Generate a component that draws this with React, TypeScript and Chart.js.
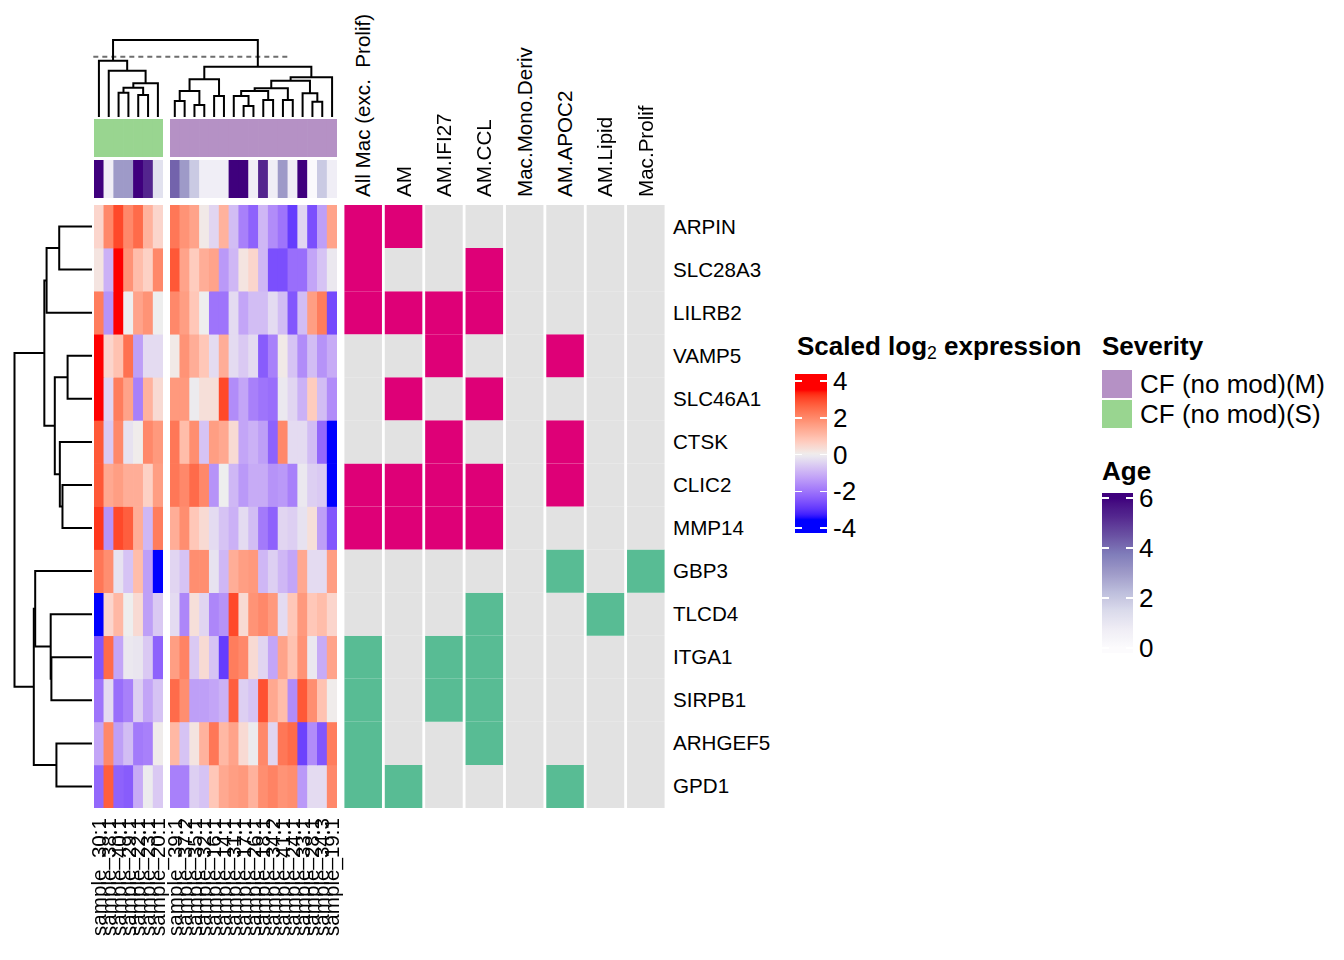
import React, { useEffect, useRef } from 'react';
import { Chart, registerables } from 'chart.js';
Chart.register(...registerables);

// ---------------- data ----------------
const genes = ['ARPIN', 'SLC28A3', 'LILRB2', 'VAMP5', 'SLC46A1', 'CTSK', 'CLIC2', 'MMP14', 'GBP3', 'TLCD4', 'ITGA1', 'SIRPB1', 'ARHGEF5', 'GPD1'];
const geneDirection = [1, 1, 1, 1, 1, 1, 1, 1, -1, -1, -1, -1, -1, -1];

const samplesS = ['sample_30:1', 'sample_38:1', 'sample_40:1', 'sample_29:1', 'sample_22:1', 'sample_23:1', 'sample_20:1'];
const samplesM = ['sample_39:1', 'sample_37:2', 'sample_35:1', 'sample_32:1', 'sample_16:1', 'sample_14:1', 'sample_31:1', 'sample_17:1', 'sample_26:1', 'sample_18:1', 'sample_34:2', 'sample_41:1', 'sample_24:1', 'sample_33:1', 'sample_28:1', 'sample_34:3', 'sample_19:1'];

const severityLevels = ['CF (no mod)(M)', 'CF (no mod)(S)'];
const severityColors = ['#B591C5', '#99D590'];
const severityS = samplesS.map(() => 'CF (no mod)(S)');
const severityM = samplesM.map(() => 'CF (no mod)(M)');

const ageS = [6, 0.7, 3, 3, 6, 5.3, 1.2];
const ageM = [4.2, 3, 1.9, 0.7, 0.7, 0.7, 6, 6, 0.7, 5.3, 0.7, 3, 0.7, 6, 0.1, 1.9, 0.7];

const exprS: number[][] = [
  [0.5, 2, 3, 2, 2.5, 1.2, 0.5],
  [0.2, -1, 3.7, 1.8, 1, 0.6, 2],
  [2.2, -1.5, 3.5, 0, 1.5, 1.8, 0],
  [4, 0.5, 0.9, 2.4, -1.3, -0.3, -0.3],
  [4, -0.4, 2.2, 1.5, -1.8, 1.2, 0.4],
  [2.8, -0.6, 2, -0.2, 0.05, 2, 1.7],
  [2.8, 1.4, 1.6, 1.3, 1.3, 0.6, 1.6],
  [3.2, -1.5, 3, 2.7, 1.3, -0.9, 2.2],
  [2.3, 1.9, -0.2, -0.7, 1, -1.3, -4],
  [-4, 0.5, 1.1, 0, 0.4, -1.3, -0.6],
  [-2.5, 2.5, -1.2, -0.1, -0.15, -0.6, -2.3],
  [-2, -0.3, -2.1, -1.8, -0.5, -1.2, -0.7],
  [-1.2, 2, -1.3, -0.8, -1.9, -1.8, 0.05],
  [-2.2, 2.7, -2.3, -2.4, -1.1, -0.05, -0.6],
];

const exprM: number[][] = [
  [2.3, 1.8, 1.5, 0.1, -0.4, 1.2, -0.8, -1.8, -2.3, -0.9, -1.6, -2, -2.9, -0.4, -2.6, -1.3, 1.5],
  [2.8, 1.5, 0.7, 1.3, 1.5, -1.4, -0.9, 0.2, 0.5, -0.9, -2.6, -2.6, -2.1, -2.1, -1.2, -0.7, -0.1],
  [2, 1.6, 0.8, 0, -2, -2, -0.3, -1.2, -0.8, -0.8, -0.3, -0.8, -2.5, -0.8, 1.6, 2.2, -2.7],
  [0.1, 1.8, 1.3, 0.8, -0.3, 1.3, -0.3, -0.6, -0.3, -2.4, -1.8, 0.1, -0.7, -1.6, -0.8, -1.5, -1.1],
  [1.7, 1.7, -0.05, 0.3, 0.3, 3, -1.6, -1.2, -1.8, -2, -2.1, -0.1, -0.4, -1, 0.7, -0.8, -1.6],
  [2.3, 1, 1.9, -0.7, 1.6, 1.4, 0.4, -1.2, -1, -1.3, -2.3, 2, -0.3, -0.3, -0.8, -2.2, -4],
  [2.3, 2, 2.5, 2, -1.5, 0, -0.9, -1.4, -1.1, -1.1, -1.5, -1.4, -1.8, -0.1, -0.5, -0.6, -3.8],
  [1.3, 1.9, 0.8, 0.4, -0.3, -0.7, -1, -0.3, -0.8, -1.9, -2.3, -0.4, -0.5, -0.2, 0.3, -1.3, -2.5],
  [-0.4, -0.7, 1.9, 1.9, -0.2, -0.9, 1.3, 1.6, 1.7, -0.9, -0.5, -0.9, -1.2, 1.4, -0.3, -0.3, 1.6],
  [-0.3, -1.7, 0.3, -0.4, -1.7, -1.5, 3, 0.4, 1.8, 2, 1.7, -0.3, 0.8, 1.7, 0.8, 1, 0.5],
  [1.6, 2.1, -0.6, 0.4, -0.7, -2.9, 2.2, 2, 0.4, -0.4, -1.2, 1.5, 0.9, 1.8, -0.1, -1.1, 1.5],
  [2.5, 1.9, -1.3, -1.3, -1.2, -1, 2.7, -0.5, -0.7, 2.9, 1.4, 1, -1.6, 2.8, 1.9, 0.9, 0.05],
  [1.1, -0.7, 0.2, 1.2, 2.3, 1.1, 1.5, 0.4, -0.05, 2, -0.4, 2.3, 2.5, -2.8, -1.6, -2.5, 2.2],
  [-1.8, -1.8, -0.5, -0.7, 0.8, 1.4, 1.6, 1.7, 1.2, 1.9, 2.1, 1.8, 1.9, -1.4, -0.3, -0.3, 2],
];

const modules = ['All Mac (exc.  Prolif)', 'AM', 'AM.IFI27', 'AM.CCL', 'Mac.Mono.Deriv', 'AM.APOC2', 'AM.Lipid', 'Mac.Prolif'];
const membership: number[][] = [
  [1, 1, 0, 0, 0, 0, 0, 0],
  [1, 0, 0, 1, 0, 0, 0, 0],
  [1, 1, 1, 1, 0, 0, 0, 0],
  [0, 0, 1, 0, 0, 1, 0, 0],
  [0, 1, 0, 1, 0, 0, 0, 0],
  [0, 0, 1, 0, 0, 1, 0, 0],
  [1, 1, 1, 1, 0, 1, 0, 0],
  [1, 1, 1, 1, 0, 0, 0, 0],
  [0, 0, 0, 0, 0, 1, 0, 1],
  [0, 0, 0, 1, 0, 0, 1, 0],
  [1, 0, 1, 1, 0, 0, 0, 0],
  [1, 0, 1, 1, 0, 0, 0, 0],
  [1, 0, 0, 1, 0, 0, 0, 0],
  [1, 1, 0, 0, 0, 1, 0, 0],
];

// dendrograms: [left, right, height]; leaves are indices
type Tree = number | [Tree, Tree, number];
const rowTree: Tree = [
  [[[0, 1, 4.23], 2, 5.86], [[3, 4, 3.15], [5, [6, 7, 3.81], 4.15], 4.8], 6.15],
  [[8, [9, [10, 11, 5.24], 5.33], 7.33], [12, 13, 4.59], 7.51],
  10.0,
];
const colTreeS: Tree = [0, [1, [[[2, 3, 3.16], [4, 5, 2.86], 3.81], 6, 4.37], 6.02], 7.31];
const colTreeM: Tree = [
  [[[0, 1, 2.08], [2, 3, 1.56], 3.38], [4, 5, 2.73], 4.89],
  [[[[[6, [7, 8, 1.43], 2.73], [9, 10, 2.21], 3.38], [11, 12, 2.21], 3.72], [13, [14, 15, 1.99], 3.07], 4.72], 16, 5.15],
  6.54,
];
const colRootHeight = 10.0;
const splitDash = { height: 7.83, from: -0.07, to: 19.94 };

const exprTicks = [4, 2, 0, -2, -4];
const ageTicks = [6, 4, 2, 0];

// ---------------- colour helpers ----------------
function toLab(hex: string): number[] {
  const n = parseInt(hex.slice(1), 16);
  const [r, g, b] = [(n >> 16) & 255, (n >> 8) & 255, n & 255].map((c) => {
    const v = c / 255;
    return v <= 0.04045 ? v / 12.92 : Math.pow((v + 0.055) / 1.055, 2.4);
  });
  const X = (0.4124564 * r + 0.3575761 * g + 0.1804375 * b) / 0.95047;
  const Y = 0.2126729 * r + 0.7151522 * g + 0.072175 * b;
  const Z = (0.0193339 * r + 0.119192 * g + 0.9503041 * b) / 1.08883;
  const f = (t: number) => (t > 216 / 24389 ? Math.cbrt(t) : ((24389 / 27) * t + 16) / 116);
  const fx = f(X), fy = f(Y), fz = f(Z);
  return [116 * fy - 16, 500 * (fx - fy), 200 * (fy - fz)];
}
function fromLab(lab: number[]): string {
  const [L, a, b] = lab;
  const fy = (L + 16) / 116, fx = fy + a / 500, fz = fy - b / 200;
  const inv = (t: number) => (t * t * t > 216 / 24389 ? t * t * t : (116 * t - 16) / (24389 / 27));
  const X = inv(fx) * 0.95047, Y = inv(fy), Z = inv(fz) * 1.08883;
  const r = 3.2404542 * X - 1.5371385 * Y - 0.4985314 * Z;
  const g = -0.969266 * X + 1.8760108 * Y + 0.041556 * Z;
  const bb = 0.0556434 * X - 0.2040259 * Y + 1.0572252 * Z;
  const enc = (c: number) => {
    const x = Math.max(0, Math.min(1, c));
    const v = x <= 0.0031308 ? 12.92 * x : 1.055 * Math.pow(x, 1 / 2.4) - 0.055;
    return Math.round(v * 255);
  };
  return `rgb(${enc(r)},${enc(g)},${enc(bb)})`;
}
function makeRamp(breaks: number[], colors: string[]) {
  const labs = colors.map(toLab);
  return (v: number) => {
    if (v <= breaks[0]) return fromLab(labs[0]);
    if (v >= breaks[breaks.length - 1]) return fromLab(labs[labs.length - 1]);
    let i = 0;
    while (v > breaks[i + 1]) i++;
    const t = (v - breaks[i]) / (breaks[i + 1] - breaks[i]);
    return fromLab(labs[i].map((c, k) => c + (labs[i + 1][k] - c) * t));
  };
}
const exprColor = makeRamp([-3.5, 0, 3.5], ['#0000FF', '#EEEEEE', '#FF0000']);
const purples = ['#FCFBFD', '#EFEDF5', '#DADAEB', '#BCBDDC', '#9E9AC8', '#807DBA', '#6A51A3', '#54278F', '#3F007D'];
const ageColor = makeRamp(purples.map((_, i) => (i * 6) / (purples.length - 1)), purples);
const UP = '#DE0077';
const DOWN = '#58BC94';
const NONE = '#E2E2E2';

// ---------------- layout ----------------
const FONT = '"Liberation Sans", Arial, Helvetica, sans-serif';
const NAME_FS = 20.6;
const LEG_FS = 26;
const HM_TOP = 205, HM_BOTTOM = 808;
const S_LEFT = 94, S_RIGHT = 163, M_LEFT = 170, M_RIGHT = 337;
const MEM_LEFT = 343, MEM_RIGHT = 666;
const ROW_H = (HM_BOTTOM - HM_TOP) / genes.length;
const GAP_UNITS = 24.72 - samplesS.length - samplesM.length;

// ---------------- charts ----------------
function GridChart(props: { left: number; top: number; width: number; height: number; labels: string[]; colors: string[][]; barPct?: number }) {
  const ref = useRef<HTMLCanvasElement>(null);
  const { left, top, width, height, labels, colors, barPct = 1 } = props;
  useEffect(() => {
    const chart = new Chart(ref.current!, {
      type: 'bar',
      data: {
        labels,
        datasets: colors.map((row) => ({
          data: row.map(() => 1),
          backgroundColor: row,
          borderWidth: 0,
          barPercentage: barPct,
          categoryPercentage: 1,
          stack: 'grid',
        })),
      },
      options: {
        responsive: false,
        animation: false,
        events: [],
        layout: { padding: 0 },
        plugins: { legend: { display: false }, tooltip: { enabled: false } },
        scales: {
          x: { display: false, stacked: true },
          y: { display: false, stacked: true, min: 0, max: colors.length, reverse: true },
        },
      },
    });
    return () => chart.destroy();
  }, []);
  return <canvas ref={ref} width={width} height={height} style={{ position: 'absolute', left, top }} />;
}

type Pt = { x: number; y: number };
function layoutTree(t: Tree, pos: (i: number) => number, segs: Pt[][]): { p: number; h: number } {
  if (typeof t === 'number') return { p: pos(t), h: 0 };
  const a = layoutTree(t[0], pos, segs);
  const b = layoutTree(t[1], pos, segs);
  const h = t[2];
  segs.push([
    { x: a.p, y: a.h },
    { x: a.p, y: h },
    { x: b.p, y: h },
    { x: b.p, y: b.h },
  ]);
  return { p: (a.p + b.p) / 2, h };
}
function shiftTree(t: Tree, k: number): Tree {
  return typeof t === 'number' ? t + k : [shiftTree(t[0], k), shiftTree(t[1], k), t[2]];
}

function DendroChart(props: {
  left: number; top: number; width: number; height: number;
  padding: { left: number; right: number; top: number; bottom: number };
  segs: Pt[][]; dashed?: Pt[]; xScale: any; yScale: any;
}) {
  const ref = useRef<HTMLCanvasElement>(null);
  const { left, top, width, height, padding, segs, dashed, xScale, yScale } = props;
  useEffect(() => {
    const datasets: any[] = segs.map((s) => ({
      data: s,
      showLine: true,
      borderColor: '#000000',
      borderWidth: 2,
      pointRadius: 0,
      fill: false,
      clip: false,
      tension: 0,
    }));
    if (dashed) {
      datasets.push({
        data: dashed,
        showLine: true,
        borderColor: '#6E6E6E',
        borderWidth: 2,
        borderDash: [5, 4],
        pointRadius: 0,
        fill: false,
        clip: false,
      });
    }
    const chart = new Chart(ref.current!, {
      type: 'scatter',
      data: { datasets },
      options: {
        responsive: false,
        animation: false,
        events: [],
        layout: { padding },
        plugins: { legend: { display: false }, tooltip: { enabled: false } },
        scales: { x: { display: false, type: 'linear', ...xScale }, y: { display: false, type: 'linear', ...yScale } },
      },
    });
    return () => chart.destroy();
  }, []);
  return <canvas ref={ref} width={width} height={height} style={{ position: 'absolute', left, top }} />;
}

// ---------------- text helpers ----------------
const baseText: React.CSSProperties = { position: 'absolute', fontFamily: FONT, lineHeight: 1, whiteSpace: 'pre', color: '#000' };

function gradient(ramp: (v: number) => string, vTop: number, vBottom: number) {
  const stops: string[] = [];
  const N = 60;
  for (let k = 0; k <= N; k++) {
    const v = vTop + ((vBottom - vTop) * k) / N;
    stops.push(`${ramp(v)} ${((k / N) * 100).toFixed(2)}%`);
  }
  return `linear-gradient(to bottom, ${stops.join(', ')})`;
}

function ColorBar(props: { left: number; width: number; vTop: number; vBottom: number; y0: number; pxPerUnit: number; ticks: number[]; ramp: (v: number) => string; labelLeft: number }) {
  const { left, width, vTop, vBottom, y0, pxPerUnit, ticks, ramp, labelLeft } = props;
  const yOf = (v: number) => y0 - v * pxPerUnit;
  const top = yOf(vTop);
  const h = yOf(vBottom) - top;
  return (
    <>
      <div style={{ position: 'absolute', left, top, width, height: h, background: gradient(ramp, vTop, vBottom) }} />
      {ticks.map((t) => (
        <React.Fragment key={t}>
          <div style={{ position: 'absolute', left, top: yOf(t) - 0.75, width: 7, height: 1.5, background: '#fff' }} />
          <div style={{ position: 'absolute', left: left + width - 7, top: yOf(t) - 0.75, width: 7, height: 1.5, background: '#fff' }} />
          <div style={{ ...baseText, left: labelLeft, top: yOf(t), transform: 'translateY(-50%)', fontSize: LEG_FS }}>{String(t)}</div>
        </React.Fragment>
      ))}
    </>
  );
}

export default function App() {
  const sColW = (S_RIGHT - S_LEFT) / samplesS.length;
  const mColW = (M_RIGHT - M_LEFT) / samplesM.length;
  const memW = (MEM_RIGHT - MEM_LEFT) / modules.length;

  const sevColor = (s: string) => severityColors[severityLevels.indexOf(s)];

  const colSegs: Pt[][] = [];
  const colPos = (i: number) => (i < samplesS.length ? i + 0.5 : i + GAP_UNITS + 0.5);
  layoutTree([colTreeS, shiftTree(colTreeM, samplesS.length), colRootHeight], colPos, colSegs);
  const rowSegsRaw: Pt[][] = [];
  layoutTree(rowTree, (i) => i + 0.5, rowSegsRaw);
  const rowSegs = rowSegsRaw.map((s) => s.map((p) => ({ x: p.y, y: p.x })));

  const totalUnits = samplesS.length + GAP_UNITS + samplesM.length;

  return (
    <div style={{ position: 'fixed', left: 0, top: 0, width: 1344, height: 960, overflow: 'hidden', background: '#ffffff' }}>
      <DendroChart
        left={S_LEFT - 10} top={30} width={M_RIGHT - S_LEFT + 20} height={92}
        padding={{ left: 10, right: 10, top: 10, bottom: 5 }}
        segs={colSegs}
        dashed={[{ x: splitDash.from, y: splitDash.height }, { x: splitDash.to, y: splitDash.height }]}
        xScale={{ min: 0, max: totalUnits }}
        yScale={{ min: 0, max: colRootHeight }}
      />
      <DendroChart
        left={0} top={HM_TOP - 10} width={100} height={HM_BOTTOM - HM_TOP + 20}
        padding={{ left: 14.5, right: 8, top: 10, bottom: 10 }}
        segs={rowSegs}
        xScale={{ min: 0, max: 10, reverse: true }}
        yScale={{ min: 0, max: genes.length, reverse: true }}
      />

      <GridChart left={S_LEFT} top={119} width={S_RIGHT - S_LEFT} height={38} labels={samplesS} colors={[severityS.map(sevColor)]} />
      <GridChart left={M_LEFT} top={119} width={M_RIGHT - M_LEFT} height={38} labels={samplesM} colors={[severityM.map(sevColor)]} />
      <GridChart left={S_LEFT} top={160} width={S_RIGHT - S_LEFT} height={38} labels={samplesS} colors={[ageS.map(ageColor)]} />
      <GridChart left={M_LEFT} top={160} width={M_RIGHT - M_LEFT} height={38} labels={samplesM} colors={[ageM.map(ageColor)]} />

      <GridChart left={S_LEFT} top={HM_TOP} width={S_RIGHT - S_LEFT} height={HM_BOTTOM - HM_TOP} labels={samplesS} colors={exprS.map((r) => r.map(exprColor))} />
      <GridChart left={M_LEFT} top={HM_TOP} width={M_RIGHT - M_LEFT} height={HM_BOTTOM - HM_TOP} labels={samplesM} colors={exprM.map((r) => r.map(exprColor))} />
      <GridChart
        left={MEM_LEFT} top={HM_TOP} width={MEM_RIGHT - MEM_LEFT} height={HM_BOTTOM - HM_TOP}
        labels={modules}
        barPct={0.93}
        colors={membership.map((r, i) => r.map((m) => (m ? (geneDirection[i] > 0 ? UP : DOWN) : NONE)))}
      />

      {modules.map((m, j) => (
        <div key={m} style={{ ...baseText, fontSize: NAME_FS, left: MEM_LEFT + (j + 0.5) * memW, top: 197, transformOrigin: '0 0', transform: 'rotate(-90deg) translateY(-50%)' }}>{m}</div>
      ))}

      {genes.map((g, i) => (
        <div key={g} style={{ ...baseText, fontSize: NAME_FS, left: 673, top: HM_TOP + (i + 0.5) * ROW_H, transform: 'translateY(-50%)' }}>{g}</div>
      ))}

      {[...samplesS.map((s, i) => ({ s, cx: S_LEFT + (i + 0.5) * sColW })), ...samplesM.map((s, j) => ({ s, cx: M_LEFT + (j + 0.5) * mColW }))].map(({ s, cx }, k) => (
        <div key={k} style={{ ...baseText, fontSize: NAME_FS, left: cx, top: 818 + 200, width: 200, textAlign: 'right', transformOrigin: '0 0', transform: 'rotate(-90deg) translateY(-50%)' }}>{s}</div>
      ))}

      <div style={{ ...baseText, left: 797, top: 332.6, fontSize: LEG_FS, fontWeight: 'bold' }}>
        Scaled log<span style={{ fontSize: '0.68em', verticalAlign: '-0.22em', fontWeight: 'normal' }}>2</span> expression
      </div>
      <ColorBar left={795} width={32} vTop={4.38} vBottom={-4.27} y0={454.5} pxPerUnit={18.375} ticks={exprTicks} ramp={exprColor} labelLeft={833} />

      <div style={{ ...baseText, left: 1102, top: 333, fontSize: LEG_FS, fontWeight: 'bold' }}>Severity</div>
      {severityLevels.map((lv, k) => (
        <React.Fragment key={lv}>
          <div style={{ position: 'absolute', left: 1102, top: 370 + k * 30, width: 30, height: 28, background: severityColors[k] }} />
          <div style={{ ...baseText, left: 1140, top: 384 + k * 30, transform: 'translateY(-50%)', fontSize: LEG_FS }}>{lv}</div>
        </React.Fragment>
      ))}

      <div style={{ ...baseText, left: 1102, top: 458, fontSize: LEG_FS, fontWeight: 'bold' }}>Age</div>
      <ColorBar left={1102} width={31} vTop={6.2} vBottom={-0.2} y0={648} pxPerUnit={25} ticks={ageTicks} ramp={ageColor} labelLeft={1139} />
    </div>
  );
}
